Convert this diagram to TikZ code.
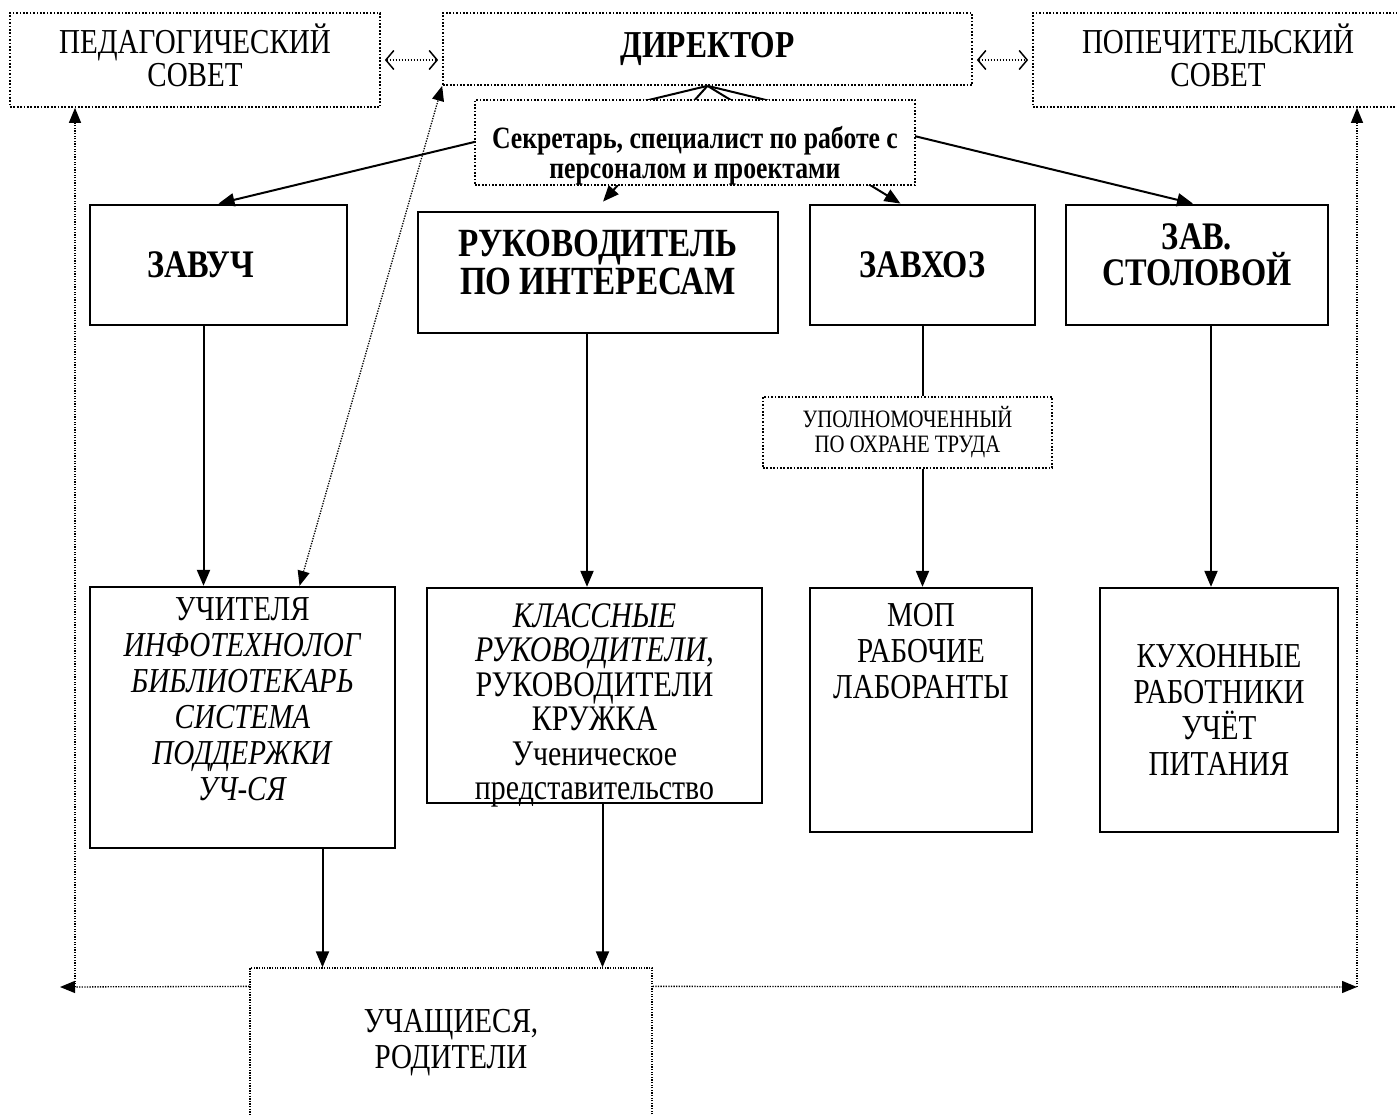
\documentclass[tikz,border=0pt]{standalone}
\usepackage{fontspec}
\setmainfont{Liberation Serif}[FakeStretch=0.83]
\usetikzlibrary{arrows.meta}

\begin{document}
\begin{tikzpicture}[
    x=1pt, y=-1pt,
    every node/.style={align=center,font=\fontsize{35}{36}\selectfont},
    council/.style={rectangle,draw=black,line width=1.7pt,dash pattern=on 1.7pt off 1.7pt,fill=white},
    loose/.style={rectangle,draw=black,line width=1.3pt,dash pattern=on 1.3pt off 1.3pt,fill=white},
    head/.style={rectangle,draw=black,line width=2.8pt,font=\bfseries\fontsize{39}{36}\selectfont},
    staff/.style={rectangle,draw=black,line width=2.3pt,inner sep=3pt},
    arrow/.style={-{Triangle[length=16pt,width=13pt]},line width=2pt},
    dottedarrow/.style={-{Triangle[length=15pt,width=12pt]},line width=1.3pt,dash pattern=on 1.3pt off 1.3pt},
    openarrow/.style={{Straight Barb[length=8pt,width=19pt]}-{Straight Barb[length=8pt,width=19pt]},line width=1.5pt,dash pattern=on 1.5pt off 1.5pt}
]
\useasboundingbox (0,0) rectangle (1397,1115);

% =====================
% TOP ROW
% =====================
\node[council,minimum width=370pt,minimum height=94pt,font=\fontsize{35}{33}\selectfont] (ped) at (195,60) {ПЕДАГОГИЧЕСКИЙ\\СОВЕТ\\[-24pt]~};
\node[council,minimum width=529pt,minimum height=72pt,font=\bfseries\fontsize{38}{38}\selectfont] (dir) at (707.5,49) {ДИРЕКТОР};
\node[council,minimum width=370pt,minimum height=94pt,font=\fontsize{35}{33}\selectfont] (pop) at (1218,60) {ПОПЕЧИТЕЛЬСКИЙ\\СОВЕТ\\[-24pt]~};

\draw[openarrow,shorten <=4pt,shorten >=4pt] (ped.east) -- (ped.east -| dir.west);
\draw[openarrow,shorten <=4pt,shorten >=4pt] (dir.east |- pop.west) -- (pop.west);

% =====================
% HEADS
% =====================
\node[head,minimum width=257pt,minimum height=120pt] (zavuch) at (218.5,265) {ЗАВУЧ\hspace*{36pt}};
\node[head,minimum width=360pt,minimum height=121pt,font=\bfseries\fontsize{40}{38}\selectfont] (ruk) at (598,272.5) {РУКОВОДИТЕЛЬ\\ПО ИНТЕРЕСАМ\\[-18pt]~};
\node[head,minimum width=225pt,minimum height=120pt] (zavhoz) at (922.5,265) {ЗАВХОЗ};
\node[head,minimum width=262pt,minimum height=120pt] (stol) at (1197,265) {ЗАВ.\\СТОЛОВОЙ\\[-16pt]~};

% Director connections
\draw[arrow] (dir.south) -- (zavuch.north);
\draw[arrow] (dir.south) -- ([xshift=5pt,yshift=9pt]ruk.north);
\draw[arrow] (dir.south) -- ([xshift=-22pt]zavhoz.north);
\draw[arrow] (dir.south) -- ([xshift=-4pt]stol.north);

\node[council,minimum width=440pt,minimum height=85pt,inner sep=0pt,font=\bfseries\fontsize{31}{30}\selectfont] (sec) at (695,142.5) {\rule{0pt}{48pt}Секретарь, специалист по работе с\\персоналом и проектами};

% =====================
% STAFF
% =====================
\node[staff,minimum width=305pt,minimum height=261pt] (uchit) at (242.5,717.5) {УЧИТЕЛЯ\\\textit{ИНФОТЕХНОЛОГ}\\\textit{БИБЛИОТЕКАРЬ}\\\textit{СИСТЕМА}\\\textit{ПОДДЕРЖКИ}\\\textit{УЧ-СЯ}\\~};
\node[staff,minimum width=335pt,minimum height=215pt,font=\fontsize{36}{34.4}\selectfont] (klass) at (594.5,695.5) {\rule{0pt}{36pt}\textit{КЛАССНЫЕ}\\\textit{РУКОВОДИТЕЛИ},\\РУКОВОДИТЕЛИ\\КРУЖКА\\Ученическое\\\smash{представительство}};
\node[council,minimum width=289pt,minimum height=71pt,font=\fontsize{25}{25}\selectfont] (upol) at (907.5,432.5) {УПОЛНОМОЧЕННЫЙ\\ПО ОХРАНЕ ТРУДА};
\node[staff,minimum width=222pt,minimum height=244pt] (mop) at (921,710) {МОП\\РАБОЧИЕ\\ЛАБОРАНТЫ\\~\\~\\[10pt]~};
\node[staff,minimum width=238pt,minimum height=244pt] (kuhn) at (1219,710) {КУХОННЫЕ\\РАБОТНИКИ\\УЧЁТ\\ПИТАНИЯ};

\draw[arrow] ([xshift=-15pt]zavuch.south) -- ([xshift=-15pt]zavuch.south |- uchit.north);
\draw[arrow] ([xshift=-11pt]ruk.south) -- ([xshift=-11pt]ruk.south |- klass.north);
\draw[line width=2pt] (zavhoz.south) -- (zavhoz.south |- upol.north);
\draw[arrow] (zavhoz.south |- upol.south) -- (zavhoz.south |- mop.north);
\draw[arrow] ([xshift=14pt]stol.south) -- ([xshift=14pt]stol.south |- kuhn.north);

\draw[dottedarrow,{Triangle[length=15pt,width=12pt]}-{Triangle[length=15pt,width=12pt]}] ([xshift=57pt]uchit.north) -- (dir.south west);

% =====================
% PUPILS
% =====================
\node[loose,minimum width=402pt,minimum height=150pt] (pupils) at (451,1043) {УЧАЩИЕСЯ,\\РОДИТЕЛИ};

\draw[arrow] ([xshift=80pt]uchit.south) -- ([xshift=80pt]uchit.south |- pupils.north);
\draw[arrow] ([xshift=8pt]klass.south) -- ([xshift=8pt]klass.south |- pupils.north);

\coordinate (leftend) at (60,987);
\coordinate (leftturn) at (75,987);
\coordinate (rightend) at (1357,987);

\draw[dottedarrow] ([yshift=-19pt]pupils.north west) -- (leftend);
\draw[dottedarrow] (leftturn) -- (leftturn |- ped.south);
\draw[dottedarrow] ([yshift=-19pt]pupils.north east) -- (rightend);
\draw[dottedarrow] (rightend) -- (rightend |- pop.south);

\end{tikzpicture}
\end{document}
